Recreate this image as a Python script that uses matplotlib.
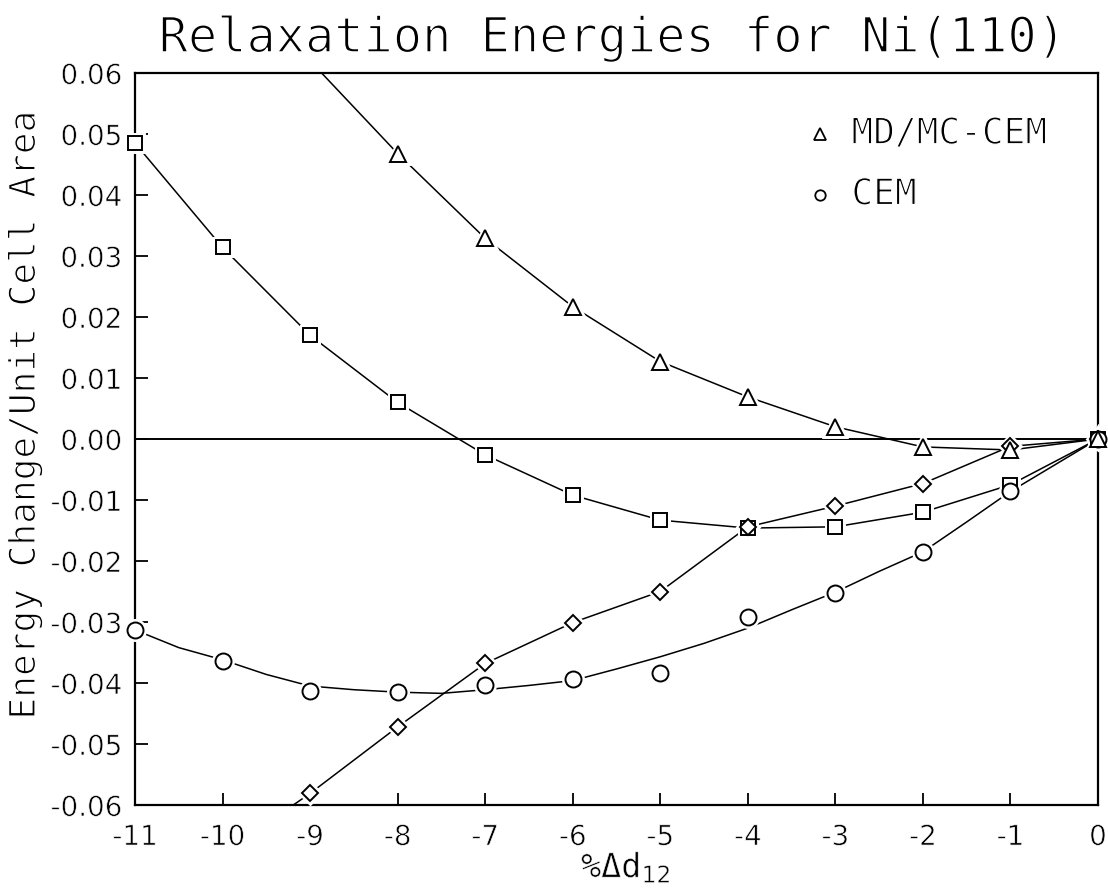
import numpy as np
import matplotlib
matplotlib.use("Agg")
from matplotlib import pyplot as plt
import matplotlib.patheffects as pe

plt.rcParams['font.family'] = ['DejaVu Sans']
MONO = ['DejaVu Sans Mono', 'DejaVu Sans']
# white outline drawn over the glyphs makes the strokes thinner, like a pen plotter
thin = [pe.Stroke(linewidth=0.9, foreground='white')]

# % change of d12
x_all = [-11, -10, -9, -8, -7, -6, -5, -4, -3, -2, -1, 0]

# MD/MC-CEM (triangles)
tri_x = [-9, -8, -7, -6, -5, -4, -3, -2, -1, 0]
tri_y = [0.062, 0.0468, 0.0329, 0.0217, 0.0127, 0.0069, 0.0020, -0.0013, -0.0018, 0.0]

# squares
sq_x = x_all
sq_y = [0.0485, 0.0314, 0.0170, 0.0060, -0.0026, -0.0092, -0.0133, -0.0146,
        -0.0144, -0.0120, -0.0075, 0.0]

# diamonds
dia_x = [-10, -9, -8, -7, -6, -5, -4, -3, -2, -1, 0]
dia_y = [-0.068, -0.0581, -0.0472, -0.0368, -0.0301, -0.0250, -0.0144, -0.0110,
         -0.0073, -0.0012, 0.0]

# CEM (circles) points
cem_x = x_all
cem_y = [-0.0313, -0.0364, -0.0413, -0.0415, -0.0403, -0.0394, -0.0383, -0.0291,
         -0.0253, -0.0185, -0.0086, 0.0]

# CEM fitted curve
cem_fit_x = [-11, -10.5, -10, -9.5, -9, -8.5, -8, -7.5, -7, -6.5, -6, -5.5,
             -5, -4.5, -4, -3.5, -3, -2.5, -2, -1.5, -1, -0.5, 0]
cem_fit_y = [-0.0313, -0.0342, -0.0362, -0.0386, -0.0405, -0.0411, -0.0415, -0.0417,
             -0.0411, -0.0404, -0.0396, -0.0377, -0.0357, -0.0335, -0.0310, -0.0280,
             -0.0251, -0.0217, -0.0185, -0.0136, -0.0086, -0.0043, 0.0]

legend_labels = ['MD/MC-CEM', 'CEM']

W, H = 1108, 892
fig = plt.figure(figsize=(W/100, H/100), dpi=100)
ax = fig.add_axes([135/W, 1 - 805/H, (1098-135)/W, (805-73)/H])
ax.set_xlim(-11, 0)
ax.set_ylim(-0.06, 0.06)

ax.axhline(0, color='black', lw=1.4, zorder=1)


def series(xs, ys, marker, ms, line=True):
    xs = np.array(xs, dtype=float)
    ys = np.array(ys, dtype=float)
    if line:
        ax.plot(xs, ys, color='black', lw=1.1, zorder=2)
    keep = np.abs(ys) <= 0.0601
    # white halo opens a small gap in the lines round each marker
    ax.plot(xs[keep], ys[keep], ls='none', marker=marker, ms=ms, mfc='white',
            mec='white', mew=5, zorder=3, clip_on=False)
    ax.plot(xs[keep], ys[keep], ls='none', marker=marker, ms=ms, mfc='white',
            mec='black', mew=1.4, zorder=4, clip_on=False)


series(sq_x, sq_y, 's', 10)
series(dia_x, dia_y, 'D', 8.5)
ax.plot(cem_fit_x, cem_fit_y, color='black', lw=1.1, zorder=2)
series(cem_x, cem_y, 'o', 11.5, line=False)
series(tri_x, tri_y, '^', 12)

ax.set_xticks(x_all)
ax.set_xticklabels([str(v) for v in x_all])
yt = np.round(np.arange(-0.06, 0.0601, 0.01), 2)
ax.set_yticks(yt)
ax.set_yticklabels(['%.2f' % v if v != 0 else '0.00' for v in yt])
ax.tick_params(direction='in', length=9, width=1.3, top=False, right=False,
               labelsize=20)
ax.tick_params(axis='x', pad=13)
ax.tick_params(axis='y', pad=9)
for lab in ax.get_xticklabels() + ax.get_yticklabels():
    lab.set_path_effects([pe.Stroke(linewidth=0.5, foreground='white')])
for s in ax.spines.values():
    s.set_linewidth(1.6)

fig.text((135 + 1098) / 2 / W - 0.004, 1 - 52/H, 'Relaxation Energies for Ni(110)',
         ha='center', va='baseline', fontsize=35, family=MONO,
         path_effects=[pe.Stroke(linewidth=1.1, foreground='white')])
ax.set_ylabel('Energy Change/Unit Cell Area', fontsize=26, family=MONO,
              path_effects=thin, rotation_mode='anchor', va='center')
ax.yaxis.set_label_coords(-(135 - 25) / (1098 - 135), (805 - 415) / (805 - 73))
ax.set_xlabel('%Δd$_{12}$', fontsize=24, family=MONO, va='center',
              path_effects=[pe.Stroke(linewidth=0.4, foreground='white')])
ax.xaxis.set_label_coords(0.51, -(867 - 805) / (805 - 73))

# legend, drawn by hand like the original
leg_mk = [('^', 8.5), ('o', 7.5)]
leg_rows = [0.917, 0.834]
for (mk, ms), yy, lab in zip(leg_mk, leg_rows, legend_labels):
    ax.plot([0.711], [yy], transform=ax.transAxes, ls='none', marker=mk, ms=ms,
            mfc='white', mec='black', mew=1.3)
    ax.text(0.744, yy, lab, transform=ax.transAxes, ha='left', va='center',
            fontsize=26, family=MONO, path_effects=thin)

fig.savefig('out.png', dpi=100)
